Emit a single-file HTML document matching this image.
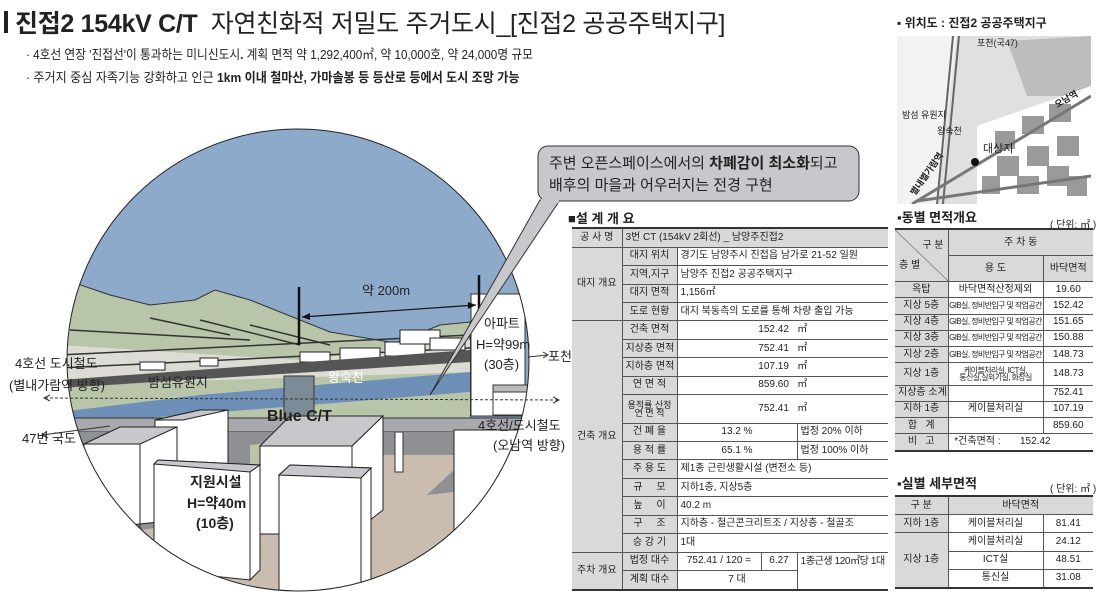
<!DOCTYPE html>
<html><head><meta charset="utf-8">
<style>
*{margin:0;padding:0;box-sizing:border-box}
body{width:1113px;height:606px;background:#fff;position:relative;overflow:hidden;font-family:"Liberation Sans","Noto Sans CJK KR",sans-serif;color:#222}
.abs{position:absolute}
table{border-collapse:collapse;position:absolute;font-size:10px;table-layout:fixed}
td{border:1px solid #555;text-align:center;padding:0 3px;white-space:nowrap;overflow:hidden;line-height:10px}
.g{background:#d9d9d9}
.l{text-align:left}
table.t{border-top:2px solid #333;border-bottom:2px solid #333;border-left:none;border-right:none}
table.t tr td:first-child{border-left:none}
table.t tr td:last-child{border-right:none}
.h{font-size:13px;font-weight:bold}
.sm{font-size:8px;padding:0;letter-spacing:-0.6px}
</style></head><body>

<div class="abs" style="left:4px;top:11px;width:4px;height:22px;background:#222"></div>
<div class="abs" style="left:15px;top:4px;font-size:25px;white-space:nowrap;letter-spacing:-0.3px"><b>진접2 154kV C/T</b>&nbsp; 자연친화적 저밀도 주거도시_[진접2 공공주택지구]</div>
<div class="abs" style="left:26px;top:44px;font-size:13px;white-space:nowrap;transform:scaleX(0.9);transform-origin:0 0">· 4호선 연장 '진접선'이 통과하는 미니신도시<b>.</b> 계획 면적 약 1,292,400㎡, 약 10,000호, 약 24,000명 규모</div>
<div class="abs" style="left:26px;top:67px;font-size:13px;white-space:nowrap;transform:scaleX(0.93);transform-origin:0 0">· 주거지 중심 자족기능 강화하고 인근 <b>1km 이내 철마산, 가마솔봉 등 등산로 등에서 도시 조망 가능</b></div>

<svg class="abs" style="left:0;top:0" width="880" height="606">
<defs><clipPath id="c"><circle cx="298" cy="360" r="231"/></clipPath></defs>
<g clip-path="url(#c)">
<rect x="0" y="100" width="600" height="520" fill="#8eaacb"/>
<path d="M60 278 L110 295 L150 305 L195 300 L215 290 L250 300 L330 332 L395 343 L440 325 L470 322 L470 420 L60 420Z" fill="#b8c5a9" stroke="#333" stroke-width="1"/>
<path d="M60 345 L300 360 L470 340 L470 372 L60 385Z" fill="#dcdcd4"/>
<path d="M60 355 L470 335 M60 368 L470 348 M70 330 L250 340 M200 320 L300 345 M150 318 L230 335 M250 325 L330 345" stroke="#333" stroke-width="1.5" fill="none"/>
<g fill="#fff" stroke="#222" stroke-width="1"><rect x="140" y="362" width="25" height="8"/><rect x="200" y="358" width="18" height="8"/><rect x="300" y="352" width="30" height="10"/><rect x="340" y="348" width="40" height="12"/><rect x="385" y="342" width="40" height="14"/><rect x="400" y="330" width="40" height="14"/><rect x="430" y="338" width="35" height="12"/></g>
<path d="M60 380 L470 350 L470 362 L60 388Z" fill="#555"/>
<path d="M60 412 L200 395 L470 372 L470 392 L300 408 L60 425Z" fill="#6d8fb8"/>
<path d="M60 425 L470 392 L470 420 L60 440Z" fill="#b8c5a9"/>
<path d="M60 418 L600 418 L600 432 L60 432Z" fill="#a9a9ad" stroke="#333" stroke-width="1"/>
<path d="M60 432 L600 432 L600 620 L60 620Z" fill="#8e9094"/>
<path d="M60 540 L220 520 L470 490 L600 480 L600 620 L60 620Z" fill="#cbbcb0"/>
<path d="M380 455 L470 455 L400 520 L380 525Z" fill="#cbbcb0"/>
<path d="M250 445 L300 440 L300 470 L250 470Z" fill="#b8c5a9"/>
<rect x="284" y="376" width="30" height="43" fill="#7c8c96" stroke="#333"/>
<rect x="471" y="294" width="54" height="122" fill="#fff" stroke="#333"/>
<rect x="493" y="385" width="35" height="30" fill="#fff" stroke="#333"/>
<rect x="493" y="385" width="35" height="7" fill="#bbb" stroke="#333"/>
<rect x="395" y="432" width="8" height="40" fill="#fff" stroke="#333"/>
<g stroke="#222" stroke-width="1">
<path d="M155 420 L200 410 L228 410 L228 470 L155 470Z" fill="#fff"/><path d="M155 420 L200 410 L228 410 L183 420Z" fill="#c8c8cc"/>
<path d="M84 444 L140 427 L177 427 L177 520 L84 530Z" fill="#fff"/><path d="M84 444 L120 427 L177 427 L140 444Z" fill="#c8c8cc"/><path d="M140 444 L140 528" fill="none"/>
<path d="M260 446 L352 446 L383 416 L383 510 L352 534 L260 534Z" fill="#fff"/><path d="M260 446 L290 416 L383 416 L352 446Z" fill="#c8c8cc"/><path d="M352 446 L352 534" fill="none"/>
<path d="M154 464 L158 460 L260 465 L250 475 L250 580 L154 570Z" fill="#fff"/><path d="M154 464 L158 460 L260 465 L250 472Z" fill="#c8c8cc"/><path d="M250 472 L260 465 L260 570 L250 580Z" fill="#fff"/>
<path d="M279 475 L290 465 L371 468 L361 478 L361 596 L279 590Z" fill="#fff"/><path d="M279 475 L290 465 L371 468 L361 478Z" fill="#c8c8cc"/><path d="M361 478 L371 468 L371 585 L361 596Z" fill="#fff"/>
<path d="M454 430 L540 430 L540 620 L454 620Z" fill="#fff"/>
</g>
<path d="M299 287 L299 345 M479 275 L479 320" stroke="#111" stroke-width="2.5"/>
<path d="M302 317 L476 305" stroke="#111" stroke-width="1.2"/>
<path d="M302 317 l8 -4 l0 7z M476 305 l-8 -3 l0 7z" fill="#111"/>
</g>
<circle cx="298" cy="360" r="231" fill="none" stroke="#222" stroke-width="1"/>
<path d="M45 398 L560 400" stroke="#333" stroke-dasharray="3,2" fill="none"/>
<path d="M50 395 l-6 3 l6 3 M553 397 l6 3 l-6 3" stroke="#333" fill="none"/>
<path d="M42 435 L110 426" stroke="#333" fill="none"/><path d="M47 431 l-5 4 l6 3" stroke="#333" fill="none"/>
<path d="M528 357 L548 355" stroke="#333" fill="none"/><path d="M543 352 l5 3 l-5 3" stroke="#333" fill="none"/>
<path d="M540 200 L430 395 L560 200Z" fill="#c8c8cc" stroke="#333"/>
<rect x="538" y="146" width="321" height="55" rx="10" fill="#c8c8cc" stroke="#333"/>
<rect x="541" y="199" width="18" height="4" fill="#c8c8cc"/>
<g font-family="Liberation Sans,Noto Sans CJK KR,sans-serif" fill="#222">
<text x="549" y="168" font-size="15">주변 오픈스페이스에서의 <tspan font-weight="bold">차폐감이 최소화</tspan>되고</text>
<text x="549" y="190" font-size="15">배후의 마을과 어우러지는 전경 구현</text>
<text x="362" y="295" font-size="13">약 200m</text>
<text x="484" y="328" font-size="13">아파트</text>
<text x="476" y="349" font-size="13">H=약99m</text>
<text x="484" y="369" font-size="13">(30층)</text>
<text x="548" y="361" font-size="13">포천</text>
<text x="15" y="368" font-size="13">4호선 도시철도</text>
<text x="9" y="390" font-size="13">(별내가람역 방향)</text>
<text x="148" y="387" font-size="13">밤섬유원지</text>
<text x="328" y="382" font-size="13" fill="#fff">왕숙천</text>
<text x="22" y="443" font-size="13">47번 국도</text>
<text x="267" y="421" font-size="16" font-weight="bold">Blue C/T</text>
<text x="478" y="430" font-size="13">4호선/도시철도</text>
<text x="493" y="450" font-size="13">(오남역 방향)</text>
<text x="190" y="487" font-size="14" font-weight="bold">지원시설</text>
<text x="187" y="508" font-size="14" font-weight="bold">H=약40m</text>
<text x="196" y="528" font-size="14" font-weight="bold">(10층)</text>
</g>
</svg>

<div class="abs h" style="left:568px;top:208px">■설 계 개 요</div>
<table class="t" style="left:572px;top:227px;width:316px;height:364px">
<colgroup><col style="width:50px"><col style="width:55px"><col style="width:84px"><col style="width:36px"><col style="width:91px"></colgroup>
<tr><td class="g">공 사 명</td><td class="g l" colspan="4">3번 CT (154kV 2회선) _ 남양주진접2</td></tr>
<tr><td class="g" rowspan="4">대지 개요</td><td class="g">대지 위치</td><td class="l" colspan="3">경기도 남양주시 진접읍 남가로 21-52 일원</td></tr>
<tr><td class="g">지역,지구</td><td class="l" colspan="3">남양주 진접2 공공주택지구</td></tr>
<tr><td class="g">대지 면적</td><td class="l" colspan="3">1,156㎡</td></tr>
<tr><td class="g">도로 현황</td><td class="l" colspan="3">대지 북동측의 도로를 통해 차량 출입 가능</td></tr>
<tr><td class="g" rowspan="12">건축 개요</td><td class="g">건축 면적</td><td colspan="3">152.42 &nbsp; ㎡</td></tr>
<tr><td class="g">지상층 면적</td><td colspan="3">752.41 &nbsp; ㎡</td></tr>
<tr><td class="g">지하층 면적</td><td colspan="3">107.19 &nbsp; ㎡</td></tr>
<tr><td class="g">연 면 적</td><td colspan="3">859.60 &nbsp; ㎡</td></tr>
<tr><td class="g" style="font-size:9px;line-height:8px">용적률 산정<br>연 면 적</td><td colspan="3">752.41 &nbsp; ㎡</td></tr>
<tr><td class="g">건 폐 율</td><td colspan="2">13.2 %</td><td class="l">법정 20% 이하</td></tr>
<tr><td class="g">용 적 률</td><td colspan="2">65.1 %</td><td class="l">법정 100% 이하</td></tr>
<tr><td class="g">주 용 도</td><td class="l" colspan="3">제1종 근린생활시설 (변전소 등)</td></tr>
<tr><td class="g">규 &nbsp; &nbsp; 모</td><td class="l" colspan="3">지하1층, 지상5층</td></tr>
<tr><td class="g">높 &nbsp; &nbsp; 이</td><td class="l" colspan="3">40.2 m</td></tr>
<tr><td class="g">구 &nbsp; &nbsp; 조</td><td class="l" colspan="3">지하층 - 철근콘크리트조 / 지상층 - 철골조</td></tr>
<tr><td class="g">승 강 기</td><td class="l" colspan="3">1대</td></tr>
<tr><td class="g" rowspan="2">주차 개요</td><td class="g">법정 대수</td><td>752.41 / 120 =</td><td>6.27</td><td rowspan="2" style="vertical-align:top;padding-top:4px;letter-spacing:-0.4px">1종근생 120㎡당 1대</td></tr>
<tr><td class="g">계획 대수</td><td colspan="2">7 대</td></tr>
</table>

<div class="abs" style="left:897px;top:14px;font-size:12px;font-weight:bold">▪ 위치도 : 진접2 공공주택지구</div>
<svg class="abs" style="left:897px;top:36px" width="194" height="168">
<rect width="194" height="168" fill="#e0e0e0"/>
<path d="M0 0 L60 0 L40 168 L0 168Z" fill="#f2f2f2"/>
<path d="M110 5 L194 0 L194 60 L130 60Z" fill="#bdbdbd"/>
<path d="M80 90 L194 50 L194 168 L80 168Z" fill="#fff"/>
<g fill="#9a9a9a"><rect x="98" y="95" width="20" height="18"/><rect x="125" y="80" width="22" height="18"/><rect x="152" y="68" width="22" height="18"/><rect x="100" y="120" width="22" height="20"/><rect x="130" y="110" width="22" height="20"/><rect x="160" y="100" width="22" height="20"/><rect x="120" y="140" width="22" height="18"/><rect x="150" y="130" width="22" height="20"/><rect x="85" y="140" width="18" height="18"/><rect x="170" y="140" width="20" height="20"/></g>
<path d="M56 0 L40 168 M62 0 L46 168" stroke="#666" stroke-width="2"/>
<path d="M15 168 L194 60" stroke="#777" stroke-width="3"/>
<path d="M20 165 L194 140" stroke="#777" stroke-width="3"/>
<circle cx="78" cy="126" r="4" fill="#111"/>
<g font-size="9" fill="#222" font-family="Liberation Sans,Noto Sans CJK KR,sans-serif"><text x="40" y="98">왕숙천</text><text x="5" y="82">밤섬 유원지</text><text x="86" y="116" font-size="11">대상지</text><text x="80" y="10">포천(국47)</text><text x="160" y="72" font-weight="bold" transform="rotate(-30 160 72)">오남역</text><text x="18" y="160" font-weight="bold" transform="rotate(-55 18 160)">별내별가람역</text></g>
</svg>

<div class="abs h" style="left:897px;top:207px">▪동별 면적개요</div>
<div class="abs" style="left:1050px;top:216px;font-size:10px">( 단위:  ㎡ )</div>
<table class="t" style="left:895px;top:228px;width:198px;height:224px">
<colgroup><col style="width:53px"><col style="width:95px"><col style="width:50px"></colgroup>
<tr><td class="g" rowspan="2" style="padding:0;background:#d9d9d9 linear-gradient(to top right,transparent 49.5%,#555 50%,transparent 51%)"><div style="text-align:right;padding-right:4px;line-height:14px">구 분</div><div style="text-align:left;padding-left:4px;line-height:14px;margin-top:6px">층 별</div></td><td class="g" colspan="2">주 차 동</td></tr>
<tr><td class="g">용 도</td><td class="g">바닥면적</td></tr>
<tr><td class="g">옥탑</td><td>바닥면적산정제외</td><td>19.60</td></tr>
<tr><td class="g">지상 5층</td><td class="sm">GIB실, 정비반입구 및 작업공간</td><td>152.42</td></tr>
<tr><td class="g">지상 4층</td><td class="sm">GIB실, 정비반입구 및 작업공간</td><td>151.65</td></tr>
<tr><td class="g">지상 3층</td><td class="sm">GIB실, 정비반입구 및 작업공간</td><td>150.88</td></tr>
<tr><td class="g">지상 2층</td><td class="sm">GIB실, 정비반입구 및 작업공간</td><td>148.73</td></tr>
<tr><td class="g">지상 1층</td><td class="sm" style="line-height:7px">케이블처리실, ICT실,<br>통신실,실외기실, 화장실</td><td>148.73</td></tr>
<tr><td class="g">지상층 소계</td><td></td><td>752.41</td></tr>
<tr><td class="g">지하 1층</td><td>케이블처리실</td><td>107.19</td></tr>
<tr><td class="g">합 &nbsp; 계</td><td></td><td>859.60</td></tr>
<tr><td class="g">비 &nbsp; 고</td><td colspan="2" class="l">&nbsp;*건축면적 : &nbsp; &nbsp; &nbsp; 152.42</td></tr>
</table>

<div class="abs h" style="left:897px;top:473px">▪실별 세부면적</div>
<div class="abs" style="left:1050px;top:480px;font-size:10px">( 단위:  ㎡ )</div>
<table class="t" style="left:895px;top:495px;width:198px;height:94px">
<colgroup><col style="width:53px"><col style="width:95px"><col style="width:50px"></colgroup>
<tr><td class="g">구 분</td><td class="g" colspan="2">바닥면적</td></tr>
<tr><td class="g">지하 1층</td><td>케이블처리실</td><td>81.41</td></tr>
<tr><td class="g" rowspan="3">지상 1층</td><td>케이블처리실</td><td>24.12</td></tr>
<tr><td>ICT실</td><td>48.51</td></tr>
<tr><td>통신실</td><td>31.08</td></tr>
</table>
</body></html>
